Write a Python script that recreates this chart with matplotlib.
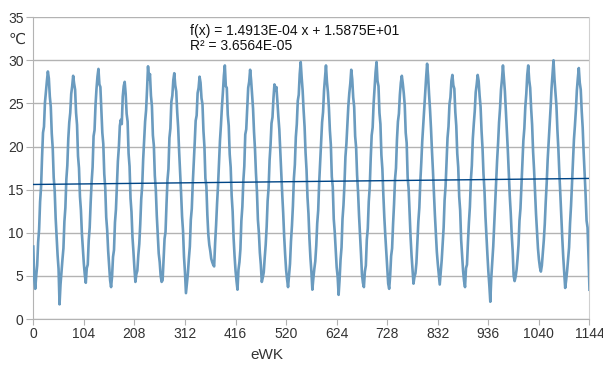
import matplotlib
matplotlib.use('Agg')

import matplotlib.pyplot as plt
import numpy as np

plt.rcParams['font.family'] = ['Liberation Sans', 'DejaVu Sans']

year_01 = [8.4, 4.6, 3.5, 5.0, 6.2, 8.9, 10.4, 13.6, 15.3, 18.7, 21.6, 22.3, 25.1, 26.4, 27.6, 28.7, 27.9, 25.8, 24.6, 21.5, 19.8, 16.4, 14.9, 11.7, 9.6, 7.4]
year_02 = [5.8, 1.7, 4.0, 5.5, 6.9, 8.2, 11.3, 12.9, 16.2, 17.8, 20.9, 22.8, 23.9, 26.1, 27.0, 28.2, 27.3, 26.6, 23.9, 22.5, 18.9, 17.5, 14.2, 12.6, 9.9, 8.1]
year_03 = [6.4, 5.1, 4.2, 5.9, 6.3, 9.1, 10.6, 13.5, 15.9, 17.6, 21.2, 21.9, 24.8, 26.7, 28.1, 29.0, 27.2, 26.9, 24.1, 21.6, 20.3, 16.8, 15.2, 11.8, 10.3, 7.9]
year_04 = [6.1, 4.5, 3.7, 4.9, 7.2, 8.0, 11.2, 12.7, 15.6, 18.3, 19.9, 22.4, 23.1, 22.6, 25.8, 27.0, 27.5, 26.1, 23.8, 22.9, 19.2, 17.7, 14.0, 12.4, 9.5, 7.8]
year_05 = [5.9, 4.3, 5.2, 5.6, 7.4, 8.7, 11.0, 13.9, 15.4, 18.5, 20.6, 22.9, 24.2, 26.6, 29.3, 27.8, 28.4, 25.9, 24.7, 21.3, 20.1, 16.6, 15.0, 12.0, 9.7, 7.6]
year_06 = [6.6, 5.0, 4.3, 4.5, 6.8, 9.3, 10.1, 13.3, 16.1, 17.4, 21.0, 22.1, 25.2, 25.9, 27.7, 28.5, 27.1, 26.4, 24.0, 22.2, 19.4, 17.1, 14.6, 11.9, 10.2, 7.2]
year_07 = [5.4, 3.0, 4.1, 5.3, 7.0, 8.4, 11.5, 12.8, 15.7, 18.0, 20.4, 23.0, 23.6, 26.2, 26.8, 28.1, 27.4, 25.6, 24.9, 21.8, 20.0, 16.3, 15.4, 12.1, 9.8, 8.6]
year_08 = [7.9, 7.0, 6.6, 6.3, 6.1, 8.8, 10.9, 13.4, 15.5, 18.1, 20.7, 22.5, 24.6, 26.3, 28.2, 29.4, 27.0, 26.8, 23.7, 22.4, 19.1, 17.6, 14.3, 12.5, 9.4, 7.3]
year_09 = [5.6, 4.4, 3.4, 5.7, 6.6, 8.1, 11.4, 13.0, 16.0, 17.7, 21.4, 22.0, 24.5, 26.8, 27.5, 28.9, 27.7, 26.0, 24.4, 21.7, 19.7, 16.9, 14.8, 11.5, 10.0, 7.7]
year_10 = [6.3, 4.3, 4.8, 5.4, 7.1, 8.6, 10.7, 13.7, 15.2, 18.4, 20.2, 22.7, 23.4, 25.6, 27.2, 26.5, 26.9, 25.3, 23.5, 22.0, 19.6, 17.0, 14.5, 12.3, 9.6, 7.5]
year_11 = [5.7, 4.6, 3.7, 5.1, 6.4, 9.0, 10.8, 13.1, 16.3, 17.9, 21.1, 22.6, 25.3, 26.0, 28.4, 29.8, 28.0, 26.5, 24.2, 22.3, 19.3, 17.3, 14.1, 12.2, 9.3, 7.1]
year_12 = [5.5, 3.4, 4.7, 5.8, 6.7, 8.5, 11.1, 12.6, 15.8, 18.2, 20.5, 22.8, 24.0, 26.5, 27.9, 29.4, 27.5, 26.3, 24.5, 21.9, 20.2, 16.5, 15.3, 11.6, 10.1, 8.0]
year_13 = [6.0, 4.9, 2.8, 4.6, 6.9, 8.3, 11.6, 13.2, 15.6, 18.8, 20.3, 22.4, 24.7, 26.2, 27.3, 28.9, 27.8, 25.7, 24.6, 21.2, 19.9, 16.7, 14.7, 12.0, 9.9, 7.6]
year_14 = [5.2, 4.2, 3.7, 5.5, 6.2, 9.2, 10.5, 13.6, 15.3, 18.6, 21.3, 22.2, 25.0, 26.9, 28.6, 29.8, 27.6, 27.0, 23.9, 22.6, 19.0, 17.4, 14.4, 11.8, 9.7, 7.9]
year_15 = [6.2, 4.1, 3.5, 5.0, 7.3, 8.2, 11.0, 13.3, 16.2, 17.5, 20.8, 22.9, 23.8, 26.0, 27.4, 28.2, 27.3, 26.2, 24.8, 21.6, 20.4, 16.4, 15.1, 12.4, 9.5, 7.4]
year_16 = [5.8, 4.1, 4.9, 5.3, 6.5, 8.8, 11.3, 12.9, 15.9, 18.1, 20.6, 22.5, 24.3, 26.4, 28.0, 29.6, 28.2, 26.1, 24.3, 22.1, 19.5, 17.2, 14.6, 12.1, 10.0, 7.8]
year_17 = [6.4, 5.2, 4.0, 5.4, 6.8, 8.7, 10.6, 13.8, 15.4, 18.3, 21.0, 22.3, 24.9, 25.7, 27.6, 28.3, 27.1, 26.7, 24.0, 22.4, 19.2, 17.6, 14.2, 12.6, 9.2, 7.3]
year_18 = [5.6, 4.4, 3.7, 5.9, 6.3, 8.9, 11.2, 13.0, 16.1, 17.8, 20.9, 22.6, 24.1, 26.3, 27.2, 28.3, 27.6, 25.9, 24.6, 21.8, 19.8, 16.8, 14.9, 11.9, 9.6, 7.5]
year_19 = [5.5, 3.9, 2.0, 4.8, 6.6, 8.4, 10.9, 13.5, 15.7, 18.4, 20.4, 22.8, 24.4, 26.6, 27.8, 29.4, 27.9, 26.4, 24.2, 22.0, 19.6, 17.0, 14.3, 12.3, 9.8, 7.9]
year_20 = [5.0, 4.4, 4.9, 5.7, 7.0, 8.6, 11.4, 12.8, 15.5, 18.0, 20.7, 22.1, 24.6, 26.1, 28.3, 29.4, 27.7, 26.8, 24.4, 22.5, 19.4, 17.3, 14.8, 12.2, 10.1, 8.2]
year_21 = [6.9, 6.0, 5.5, 6.2, 7.6, 9.1, 11.0, 13.6, 15.8, 18.5, 20.5, 22.7, 24.5, 26.8, 28.4, 30.0, 27.8, 26.2, 24.7, 21.9, 19.7, 16.9, 14.5, 11.8, 9.4, 7.2]
year_22 = [5.3, 3.6, 4.5, 5.6, 6.9, 8.3, 11.1, 13.1, 15.6, 18.2, 20.8, 22.4, 24.2, 26.5, 27.9, 29.1, 27.4, 26.6, 24.1, 22.2, 19.3, 16.8, 14.4, 11.4, 10.6, 7.2]
last_value = [3.4]

temps = (year_01 + year_02 + year_03 + year_04 + year_05 + year_06 + year_07 +
         year_08 + year_09 + year_10 + year_11 + year_12 + year_13 + year_14 +
         year_15 + year_16 + year_17 + year_18 + year_19 + year_20 + year_21 +
         year_22 + last_value)
weeks = np.arange(len(temps)) * 2

# trend line as drawn on the chart
trend_weeks = [0, 1144]
trend_vals = [15.6, 16.3]

xticks = list(range(0, 1145, 104))
yticks = list(range(0, 36, 5))

fig = plt.figure(figsize=(6.03, 3.65), dpi=100)
ax = fig.add_axes([0.0552, 0.126, 0.9224, 0.827])

ax.plot(weeks, temps, color='#6a9bbf', lw=1.9, zorder=3)
ax.plot(trend_weeks, trend_vals, color='#004586', lw=1.0, zorder=4)

ax.set_xlim(0, 1144)
ax.set_ylim(0, 35)
ax.set_xticks(xticks)
ax.set_yticks(yticks)
ax.grid(axis='y', color='#b3b3b3', lw=1.0, zorder=1)
ax.set_axisbelow(True)

ax.spines['top'].set_visible(False)
ax.spines['left'].set_color('#b3b3b3')
ax.spines['bottom'].set_color('#b3b3b3')
ax.spines['right'].set_color('#d0d0d0')
ax.tick_params(axis='y', length=5, color='#b3b3b3', pad=2, labelsize=10, labelcolor='#333333')
ax.tick_params(axis='x', length=4, color='#b3b3b3', pad=2, labelsize=10, labelcolor='#333333')

ax.set_xlabel('eWK', fontsize=11, color='#333333', labelpad=4)
ax.xaxis.set_label_coords(0.42, -0.095)

fig.text(0.028, 0.89, '℃', fontsize=11, color='#333333', ha='center', va='center')
fig.text(0.315, 0.915, 'f(x) = 1.4913E-04 x + 1.5875E+01', fontsize=10, color='#111111', va='center')
fig.text(0.315, 0.874, 'R² = 3.6564E-05', fontsize=10, color='#111111', va='center')

plt.savefig('out.png', dpi=100)
